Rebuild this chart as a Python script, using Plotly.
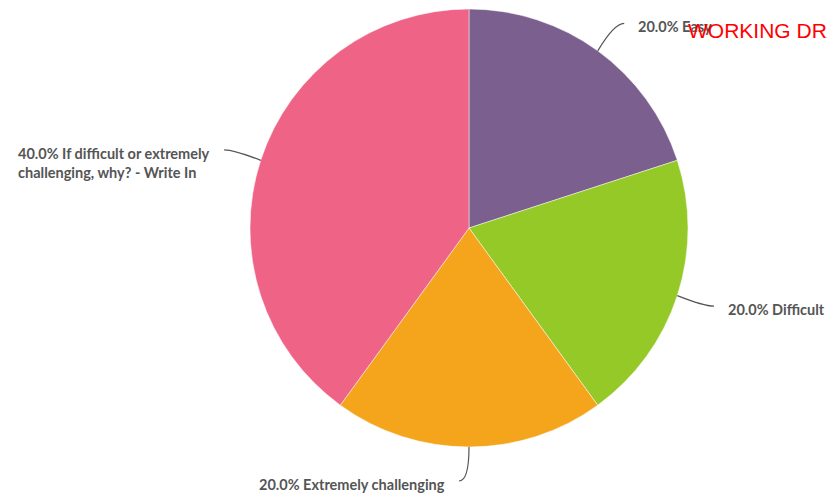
import math
import plotly.graph_objects as go

# Survey responses: share of answers per category
categories = ["Easy", "Difficult", "Extremely challenging",
              "If difficult or extremely challenging, why? - Write In"]
values = [20.0, 20.0, 20.0, 40.0]
label_text = ["20.0% Easy", "20.0% Difficult", "20.0% Extremely challenging",
              "40.0% If difficult or extremely<br>challenging, why? - Write In"]
colors = ["#7B5F8F", "#95C927", "#F4A51C", "#EF6486"]

W, H = 827, 497
# pie placement (pixels)
cx, cy, r = 469, 228, 219

fig = go.Figure(go.Pie(
    labels=categories,
    values=values,
    sort=False,
    direction="clockwise",
    rotation=0,
    textinfo="none",
    hoverinfo="label+percent",
    marker=dict(colors=colors, line=dict(color="rgba(255,255,255,0.8)", width=0.6)),
    domain=dict(x=[(cx - r) / W, (cx + r) / W], y=[(H - cy - r) / H, (H - cy + r) / H]),
    showlegend=False,
))

shapes = []
annotations = []
total = sum(values)
cum = 0.0
for v, txt in zip(values, label_text):
    mid = (cum + v / 2) / total * 2 * math.pi
    cum += v
    ux, uy = math.sin(mid), -math.cos(mid)
    side = 1 if ux > 1e-6 else -1
    # leader line: from slice edge, bend outward, then short horizontal tail
    x0, y0 = cx + r * ux, cy + r * uy
    x1, y1 = cx + (r + 28) * ux, cy + (r + 34) * uy
    x2, y2 = x1 + side * 10, y1
    fx = lambda px: px / W
    fy = lambda py: 1 - py / H
    path = "M {:.4f},{:.4f} Q {:.4f},{:.4f} {:.4f},{:.4f}".format(
        fx(x0), fy(y0), fx(x1), fy(y1), fx(x2), fy(y2))
    shapes.append(dict(type="path", path=path, xref="paper", yref="paper",
                       line=dict(color="#555555", width=1.2)))
    annotations.append(dict(
        x=fx(x2 + side * 12), y=fy(y2 - 7), xref="paper", yref="paper",
        text=txt, showarrow=False,
        xanchor="left" if side > 0 else "right", yanchor="top",
        align="left", font=dict(family="Lato", size=14.5, color="#555555", weight=700),
    ))

annotations.append(dict(
    x=686 / W, y=1 - 31 / H, xref="paper", yref="paper",
    text="WORKING DRAFT", showarrow=False, xanchor="left", yanchor="middle",
    font=dict(family="Liberation Sans, Arial", size=21, color="#FF0000"),
))

fig.update_layout(
    width=W, height=H,
    margin=dict(l=0, r=0, t=0, b=0),
    paper_bgcolor="white", plot_bgcolor="white",
    shapes=shapes, annotations=annotations,
)

fig.write_html("out.html")
